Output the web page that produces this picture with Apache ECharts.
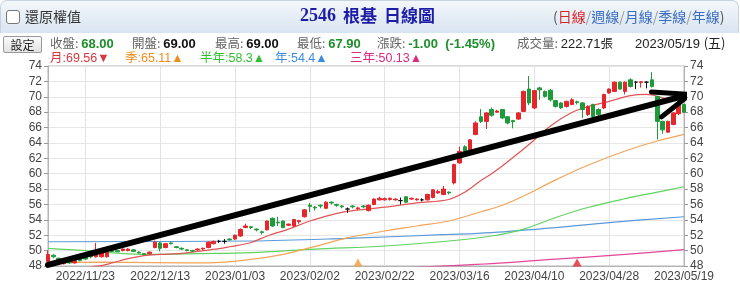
<!DOCTYPE html>
<html><head><meta charset="utf-8">
<script src="https://cdn.jsdelivr.net/npm/echarts/dist/echarts.min.js"></script>
<style>
body{margin:0;width:740px;height:283px;overflow:hidden;background:#fff;position:relative;font-family:"Liberation Sans","Noto Sans CJK TC",sans-serif}
#chart{position:absolute;left:0;top:0;width:740px;height:283px}
.bar{position:absolute;left:0;top:0;width:737px;height:32px;border:1px solid #c7d3df;border-bottom:none;border-radius:7px 7px 0 0;background:linear-gradient(#f3f7fb,#d8e5f1)}
.t{position:absolute;white-space:nowrap;line-height:18px}
.cjk{font-family:"Noto Sans CJK TC",sans-serif}
.lb{font-family:"Noto Sans CJK TC",sans-serif;color:#666;font-size:12.5px}
.v{font-weight:bold;font-size:13px;font-family:"Liberation Sans",Arial,sans-serif}
.g{color:#1d8f2a}.k{color:#111}
.ma{font-size:12.5px;font-family:"Liberation Sans","Noto Sans CJK TC",sans-serif}
</style></head>
<body>
<div id="chart"></div>
<div class="bar"></div>
<div style="position:absolute;left:6px;top:10px;width:12px;height:12px;border:1px solid #777;border-radius:3px;background:#fff"></div>
<div class="t cjk" style="left:25px;top:7px;font-size:14px;color:#333">還原權值</div>
<div class="t" style="left:300px;top:6px;font-size:18px;font-weight:bold;color:#1c1ca6;font-family:'Liberation Serif',serif">2546</div>
<div class="t cjk" style="left:343px;top:6px;font-size:17px;font-weight:bold;color:#1c1ca6">根基</div>
<div class="t cjk" style="left:384px;top:6px;font-size:17px;font-weight:bold;color:#1c1ca6">日線圖</div>
<div class="t cjk" style="left:553px;top:7px;font-size:14px;color:#555">(<span style="color:#d8262c">日線</span><span style="color:#999">/</span><span style="color:#3c6cc0">週線</span><span style="color:#999">/</span><span style="color:#3c6cc0">月線</span><span style="color:#999">/</span><span style="color:#3c6cc0">季線</span><span style="color:#999">/</span><span style="color:#3c6cc0">年線</span>)</div>
<div class="cjk" style="position:absolute;left:3px;top:36px;width:37px;height:15px;border:1px solid #9a9a9a;border-radius:2px;background:linear-gradient(#fbfbfb,#e2e2e2);font-size:12px;line-height:15px;text-align:center;color:#222">設定</div>
<div class="t" style="left:50px;top:34px"><span class="lb">收盤: </span><span class="v g">68.00</span></div>
<div class="t" style="left:132px;top:34px"><span class="lb">開盤: </span><span class="v k">69.00</span></div>
<div class="t" style="left:215px;top:34px"><span class="lb">最高: </span><span class="v k">69.00</span></div>
<div class="t" style="left:297px;top:34px"><span class="lb">最低: </span><span class="v g">67.90</span></div>
<div class="t" style="left:377px;top:34px"><span class="lb">漲跌: </span><span class="v g">-1.00&nbsp;&nbsp;(-1.45%)</span></div>
<div class="t" style="left:517px;top:34px"><span class="lb">成交量: </span><span style="font-size:13px;color:#222">222.71</span><span class="cjk" style="font-size:12.5px;color:#222">張</span></div>
<div class="t" style="left:635px;top:34px;font-size:13px;color:#222">2023/05/19 <span class="cjk">(五)</span></div>
<div class="t ma" style="left:50px;top:49px;color:#d9363e">月:69.56▼</div>
<div class="t ma" style="left:125px;top:49px;color:#ef8c1c">季:65.11▲</div>
<div class="t ma" style="left:200px;top:49px;color:#2fbf2f">半年:58.3▲</div>
<div class="t ma" style="left:275px;top:49px;color:#3a8ddd">年:54.4▲</div>
<div class="t ma" style="left:350px;top:49px;color:#de2a7e">三年:50.13▲</div>
<script>
const dates = ['2022/11/14','2022/11/15','2022/11/16','2022/11/17','2022/11/18','2022/11/21','2022/11/22','2022/11/23','2022/11/24','2022/11/25','2022/11/28','2022/11/29','2022/11/30','2022/12/01','2022/12/02','2022/12/05','2022/12/06','2022/12/07','2022/12/08','2022/12/09','2022/12/12','2022/12/13','2022/12/14','2022/12/15','2022/12/16','2022/12/19','2022/12/20','2022/12/21','2022/12/22','2022/12/23','2022/12/26','2022/12/27','2022/12/28','2022/12/29','2022/12/30','2023/01/03','2023/01/04','2023/01/05','2023/01/06','2023/01/09','2023/01/10','2023/01/11','2023/01/12','2023/01/13','2023/01/16','2023/01/17','2023/01/30','2023/01/31','2023/02/01','2023/02/02','2023/02/03','2023/02/06','2023/02/07','2023/02/08','2023/02/09','2023/02/10','2023/02/13','2023/02/14','2023/02/15','2023/02/16','2023/02/17','2023/02/20','2023/02/21','2023/02/22','2023/02/23','2023/02/24','2023/03/01','2023/03/02','2023/03/03','2023/03/06','2023/03/07','2023/03/08','2023/03/09','2023/03/10','2023/03/13','2023/03/14','2023/03/15','2023/03/16','2023/03/17','2023/03/20','2023/03/21','2023/03/22','2023/03/23','2023/03/24','2023/03/27','2023/03/28','2023/03/29','2023/03/30','2023/03/31','2023/04/06','2023/04/07','2023/04/10','2023/04/11','2023/04/12','2023/04/13','2023/04/14','2023/04/17','2023/04/18','2023/04/19','2023/04/20','2023/04/21','2023/04/24','2023/04/25','2023/04/26','2023/04/27','2023/04/28','2023/05/02','2023/05/03','2023/05/04','2023/05/05','2023/05/08','2023/05/09','2023/05/10','2023/05/11','2023/05/12','2023/05/15','2023/05/16','2023/05/17','2023/05/18','2023/05/19'];

// [open, close, low, high]
const candles = [
[48.6,49.5,48.5,50.0],[49.4,49.2,49.0,49.5],[49.0,48.7,48.5,49.1],[48.3,48.5,48.2,48.7],[48.6,48.4,48.3,48.7],
[48.4,48.7,48.3,48.8],[48.9,48.7,48.6,49.0],[49.1,48.9,48.8,49.2],[49.4,49.2,49.0,49.5],[49.2,49.6,49.1,51.0],
[49.2,49.7,49.1,49.8],[49.2,49.8,49.1,49.9],[50.0,49.9,49.8,50.1],[50.0,49.85,49.8,50.1],[50.0,50.2,49.9,50.3],
[50.0,50.2,49.9,50.3],[50.1,49.9,49.8,50.2],[49.8,49.7,49.6,49.9],[49.6,49.5,49.4,49.7],[49.6,49.8,49.5,49.9],
[50.4,51.1,50.3,51.3],[51.0,50.3,49.9,51.1],[50.4,50.9,50.3,51.0],[51.0,50.9,50.8,51.1],[50.5,50.4,50.3,50.6],
[50.3,50.2,50.1,50.4],[50.1,50.0,49.9,50.2],[50.0,49.95,49.8,50.1],[50.1,50.2,50.0,50.3],[50.2,50.3,50.1,50.4],
[50.4,51.1,50.3,51.2],[50.9,51.2,50.8,51.3],[51.2,51.2,51.0,51.4],[51.2,51.2,50.9,51.5],[51.5,51.4,51.3,51.6],
[51.5,52.0,51.4,52.1],[51.9,52.75,51.8,52.9],[53.0,53.2,52.9,53.5],[53.1,53.0,52.8,53.2],[52.8,52.7,52.5,52.9],
[52.45,52.35,52.1,52.6],[52.7,53.85,52.6,53.9],[54.2,53.2,53.1,54.3],[53.7,53.6,53.2,54.4],[53.85,53.0,52.9,53.9],
[53.3,53.45,53.2,53.5],[53.2,54.05,53.1,54.1],[53.75,53.9,53.5,54.0],[54.4,55.3,54.3,55.4],[55.9,55.75,55.0,56.2],
[55.65,55.55,55.2,55.8],[55.9,55.8,55.5,56.0],[55.5,56.3,55.4,56.4],[56.3,56.2,56.0,56.4],[56.0,55.9,55.7,56.1],
[55.8,55.7,55.5,55.9],[55.4,55.4,54.9,55.6],[55.8,55.7,55.5,55.9],[55.45,55.55,55.3,55.7],[55.8,55.7,55.5,55.9],
[55.2,55.9,55.1,56.0],[56.0,56.7,55.9,56.8],[56.6,56.8,56.5,57.0],[56.6,56.75,56.5,56.9],[56.65,56.8,56.5,56.9],
[56.6,56.7,56.5,56.8],[56.5,56.5,56.0,56.9],[57.0,56.3,56.2,57.1],[56.7,56.8,56.6,56.9],[56.6,56.7,56.5,56.8],
[56.6,56.6,56.4,56.8],[56.6,57.3,56.5,57.4],[56.9,57.9,56.8,58.0],[57.5,57.7,57.4,57.9],[57.3,58.0,57.2,58.4],
[57.6,57.5,57.3,57.7],[58.8,61.2,58.6,61.3],[61.4,62.9,61.3,63.5],[63.5,62.9,62.6,63.7],[63.05,64.4,63.0,64.5],
[65.1,66.6,65.0,66.8],[67.4,66.8,66.6,68.4],[66.8,67.9,65.8,68.0],[68.35,67.6,67.4,68.6],[68.0,68.15,67.9,68.3],
[68.35,67.25,67.1,68.4],[67.4,66.6,66.4,67.5],[66.9,66.75,65.9,67.0],[67.1,67.9,67.0,68.0],[68.1,70.7,68.0,70.8],
[71.0,69.2,68.9,72.7],[68.55,70.8,68.4,70.9],[71.15,70.9,69.6,71.3],[70.7,70.05,69.9,70.8],[70.85,69.6,69.4,71.0],
[69.5,68.75,68.6,69.6],[69.2,68.55,68.4,69.3],[68.75,69.4,68.6,69.5],[69.0,69.6,68.9,69.8],[69.35,69.25,69.0,69.5],
[69.2,68.35,67.25,69.3],[67.7,68.75,67.5,68.9],[69.0,67.45,67.3,69.1],[68.35,67.7,67.5,68.5],[68.55,70.3,68.4,70.4],
[70.5,71.0,70.4,71.1],[70.7,71.9,70.6,72.0],[71.9,71.0,70.9,72.0],[70.7,71.9,70.3,72.0],[72.2,71.35,71.2,72.4],
[71.9,71.9,71.0,72.0],[71.85,71.95,71.2,72.0],[71.9,71.9,71.1,72.0],[72.2,71.35,71.2,73.2],[70.05,66.8,64.45,70.1],
[66.8,65.7,65.2,66.9],[65.4,66.8,65.3,66.9],[66.4,67.9,66.3,68.0],[67.8,69.0,67.6,69.1],[69.0,68.0,67.9,69.0]
];

// moving averages: [candle index, value]
const maMonth = [[8,47.9],[10,48.05],[12,48.4],[15,48.95],[18,49.35],[21,49.5],[25,49.65],[28,49.9],[32,50.25],[34,50.5],[38,51.05],[41,51.9],[45,52.8],[49,53.85],[53,54.65],[56,55.1],[63,55.65],[69,56.2],[75,56.65],[78,57.6],[81,59.1],[83,60.0],[85,61.0],[87,62.1],[90,63.8],[94,66.2],[98,67.95],[101,68.7],[105,69.4],[109,70.15],[112,70.3],[116,69.7],[119,69.56]];
const maQuarter = [[0,48.4],[10,48.5],[20,48.45],[30,48.4],[38,48.85],[44,49.5],[50,50.55],[56,51.65],[63,52.55],[69,53.2],[75,53.85],[81,55.05],[85,55.9],[89,57.1],[95,59.2],[101,61.1],[108,62.95],[114,64.25],[119,65.11]];
const maHalfYear = [[0,50.3],[7,50.0],[10,49.8],[19,49.5],[28,49.6],[38,49.75],[50,50.2],[63,50.6],[75,51.25],[83,51.9],[89,52.8],[95,54.3],[101,55.6],[108,56.75],[114,57.6],[119,58.3]];
const maYear = [[0,51.15],[38,51.25],[56,51.6],[75,52.1],[83,52.35],[95,53.0],[105,53.65],[119,54.4]];
const ma3Year = [[68,47.8],[83,48.3],[95,48.9],[108,49.5],[119,50.13]];

const eventOrange = [58];
const eventRed = [99];

// hand-drawn arrow annotation, in [candle index, price]
const arrowShaft = [[0,48.14],[120.1,70.3]];
const arrowHead = [[112.9,70.63],[120.1,70.3],[114.8,67.39]];

const yMin = 48, yMax = 74, yStep = 2;
const firstLabel = 7, labelEvery = 14;

const chart = echarts.init(document.getElementById('chart'), null, {renderer:'canvas'});
const axisFont = {fontFamily:'Liberation Sans, Arial, sans-serif', fontSize:12, color:'#444'};
const showIdx = (i) => (i - firstLabel) % labelEvery === 0;
const markLevel = 48.45;
const maLine = (name, data, color) => ({
  name, type:'line', data, xAxisIndex:0, yAxisIndex:0, showSymbol:false, symbol:'none',
  smooth:0.35, lineStyle:{color, width:1.2}, z:2, silent:true
});

chart.setOption({
  animation:false,
  grid:{left:48, right:56, top:66, bottom:16, show:true, borderColor:'#b4b4b4', borderWidth:1},
  xAxis:[{
    type:'category', data:dates, boundaryGap:false,
    axisLine:{show:true, lineStyle:{color:'#b4b4b4'}},
    axisTick:{show:false},
    axisLabel:Object.assign({interval:(i)=>showIdx(i), margin:5, formatter:(v)=>v}, axisFont),
    splitLine:{show:true, interval:(i)=>showIdx(i), lineStyle:{color:'#e3e3e3'}}
  },{
    type:'value', min:0, max:dates.length-1, show:false
  }],
  yAxis:[{
    type:'value', position:'left', min:yMin, max:yMax, interval:yStep,
    axisLine:{show:true, lineStyle:{color:'#b4b4b4'}},
    axisTick:{show:true, length:4, lineStyle:{color:'#999'}},
    axisLabel:Object.assign({margin:6}, axisFont),
    splitLine:{show:true, lineStyle:{color:'#e6e6e6'}}
  },{
    type:'value', position:'right', min:yMin, max:yMax, interval:yStep,
    axisLine:{show:true, lineStyle:{color:'#b4b4b4'}},
    axisTick:{show:true, length:4, lineStyle:{color:'#999'}},
    axisLabel:Object.assign({margin:6}, axisFont),
    splitLine:{show:false}
  }],
  series:[
    maLine('三年', ma3Year, '#e2479a'),
    maLine('年', maYear, '#5a9ad8'),
    maLine('半年', maHalfYear, '#5fd35f'),
    maLine('季', maQuarter, '#f2a459'),
    maLine('月', maMonth, '#e05456'),
    {
      name:'K', type:'candlestick', data:candles, barWidth:4, z:3,
      itemStyle:{color:'#e5262b', color0:'#1f9a3b', borderColor:'#e5262b', borderColor0:'#1f9a3b', borderColorDoji:'#111', borderWidth:1}
    },
    {
      type:'scatter', data:eventOrange.map(i=>[i, markLevel]), symbol:'triangle', symbolSize:[9,8],
      itemStyle:{color:'#f39a3c'}, z:4, silent:true
    },
    {
      type:'scatter', data:eventRed.map(i=>[i, markLevel]), symbol:'triangle', symbolSize:[9,8],
      itemStyle:{color:'#e3202a'}, z:4, silent:true
    },
    {
      type:'line', xAxisIndex:1, yAxisIndex:0, data:arrowShaft, clip:false, symbol:'none', z:10, silent:true,
      lineStyle:{color:'#000', width:6, cap:'round', join:'round'}
    },
    {
      type:'line', xAxisIndex:1, yAxisIndex:0, data:arrowHead, clip:false, symbol:'none', z:10, silent:true,
      lineStyle:{color:'#000', width:5, cap:'round', join:'round'}
    }
  ]
});
</script>
</body></html>
